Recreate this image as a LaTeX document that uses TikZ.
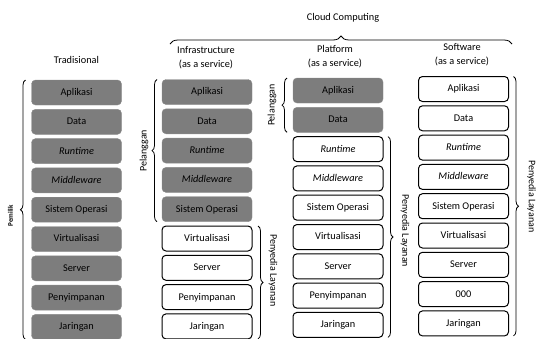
\documentclass[tikz,border=0pt]{standalone}
\usepackage{fontspec}
\setmainfont{Carlito}
\usetikzlibrary{positioning,decorations.pathreplacing}

\begin{document}
\begin{tikzpicture}
        [
            x = 1pt, y = -1pt,
            node distance = 4.3pt,
            slab/.style = {
                rectangle, rounded corners=4pt, outer sep=0pt, inner sep=0pt,
                font=\fontsize{10.3}{12}\selectfont,
                minimum width=90pt, minimum height=25pt,
                text height=1.5ex, text depth=.25ex},
            own/.style = {slab, fill=black!51, draw=black!45},
            rent/.style = {slab, fill=white, draw=black, line width=1pt},
            colhead/.style = {align=center, font=\fontsize{10.3}{14}\selectfont},
            brace/.style = {decorate, decoration={brace, amplitude=5pt}, line width=0.8pt},
            lside/.style = {font=\fontsize{10}{12}\selectfont, rotate=90},
            rside/.style = {font=\fontsize{10}{12}\selectfont, rotate=-90}
        ]
        \useasboundingbox (0,0) rectangle (538,338);
        % Tradisional
        \node [colhead] (tHead) at (76.5,60) {Tradisional};
        \node [own] (tApl) at (76.5,92.5) {Aplikasi};
        \node [own] (tData) [below=of tApl] {Data};
        \node [own] (tRun) [below=of tData] {\itshape Runtime};
        \node [own] (tMid) [below=of tRun] {\itshape Middleware};
        \node [own] (tOS) [below=of tMid] {Sistem Operasi};
        \node [own] (tVirt) [below=of tOS] {Virtualisasi};
        \node [own] (tServ) [below=of tVirt] {Server};
        \node [own] (tStor) [below=of tServ] {Penyimpanan};
        \node [own] (tJar) [below=of tStor] {Jaringan};
        % Infrastructure
        \node [colhead] (iHead) at (206,58) {Infrastructure\\(as a service)};
        \node [own] (iApl) at (207,92) {Aplikasi};
        \node [own] (iData) [below=of iApl] {Data};
        \node [own] (iRun) [below=of iData] {\itshape Runtime};
        \node [own] (iMid) [below=of iRun] {\itshape Middleware};
        \node [own] (iOS) [below=of iMid] {Sistem Operasi};
        \node [rent] (iVirt) [below=of iOS] {Virtualisasi};
        \node [rent] (iServ) [below=of iVirt] {Server};
        \node [rent] (iStor) [below=of iServ] {Penyimpanan};
        \node [rent] (iJar) [below=of iStor] {Jaringan};
        % Platform
        \node [colhead] (pHead) at (335,57) {Platform\\(as a service)};
        \node [own] (pApl) at (338,90.5) {Aplikasi};
        \node [own] (pData) [below=of pApl] {Data};
        \node [rent] (pRun) [below=of pData] {\itshape Runtime};
        \node [rent] (pMid) [below=of pRun] {\itshape Middleware};
        \node [rent] (pOS) [below=of pMid] {Sistem Operasi};
        \node [rent] (pVirt) [below=of pOS] {Virtualisasi};
        \node [rent] (pServ) [below=of pVirt] {Server};
        \node [rent] (pStor) [below=of pServ] {Penyimpanan};
        \node [rent] (pJar) [below=of pStor] {Jaringan};
        % Software
        \node [colhead] (sHead) at (462,54.5) {Software\\(as a service)};
        \node [rent] (sApl) at (463.5,89) {Aplikasi};
        \node [rent] (sData) [below=of sApl] {Data};
        \node [rent] (sRun) [below=of sData] {\itshape Runtime};
        \node [rent] (sMid) [below=of sRun] {\itshape Middleware};
        \node [rent] (sOS) [below=of sMid] {Sistem Operasi};
        \node [rent] (sVirt) [below=of sOS] {Virtualisasi};
        \node [rent] (sServ) [below=of sVirt] {Server};
        \node [rent] (sStor) [below=of sServ] {000};
        \node [rent] (sJar) [below=of sStor] {Jaringan};
        % braces
        \node [colhead] (cloud) at (343,18) {Cloud Computing};
        \coordinate (ccL) at (170,44);
        \coordinate (ccR) at (512,44);
        \draw [brace, decoration={amplitude=8pt}] (ccL) -- (ccR);
        \draw [brace] ([xshift=-6pt]tJar.south west) -- node [midway, xshift=-15pt, yshift=-6pt, lside, font=\fontsize{7}{8}\selectfont\bfseries] {Pemilik} ([xshift=-6pt]tApl.north west);
        \draw [brace] ([xshift=-5pt]iOS.south west) -- node [midway, xshift=-13pt, lside] {Pelanggan} ([xshift=-5pt]iApl.north west);
        \draw [brace] ([xshift=6pt]iVirt.north east) -- node [midway, xshift=15pt, yshift=12pt, rside] {Penyedia Layanan} ([xshift=6pt]iJar.south east);
        \draw [brace] ([xshift=-6pt]pData.south west) -- node [midway, xshift=-15pt, lside] {Pelanggan} ([xshift=-6pt]pApl.north west);
        \draw [brace] ([xshift=5pt]pRun.north east) -- node [midway, xshift=17pt, yshift=6pt, rside] {Penyedia Layanan} ([xshift=5pt]pJar.south east);
        \draw [brace] ([xshift=5pt]sApl.north east) -- node [midway, xshift=18pt, yshift=10pt, rside] {Penyedia Layanan} ([xshift=5pt]sJar.south east);
    \end{tikzpicture}
\end{document}
